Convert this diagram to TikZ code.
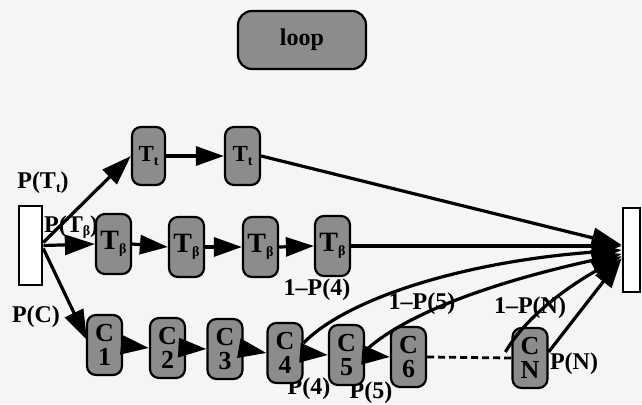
\documentclass[tikz,border=0pt]{standalone}
\usepackage{fontspec}
\setmainfont{Liberation Serif}
\usetikzlibrary{arrows.meta,calc}
\tikzset{
  st/.style={draw=black, line width=2.2pt, fill=black!45, rounded corners=9pt,
    minimum width=35pt, minimum height=58pt, inner sep=0pt, align=center,
    font=\bfseries\fontsize{26}{24}\selectfont},
  bar/.style={draw=black, line width=2.6pt, fill=white, inner sep=0pt},
  lab/.style={font=\bfseries\fontsize{24}{24}\selectfont, inner sep=0pt},
  arr/.style={line width=3.2pt, -{Triangle[length=30pt,width=20pt]}},
  chain/.style={line width=3.2pt, -{Triangle[length=28pt,width=19pt]}},
}
\newcommand{\sbt}[1]{\raisebox{-0.15em}{\fontsize{14}{14}\selectfont #1}}
\begin{document}
\begin{tikzpicture}[x=1pt,y=-1pt]
\fill[black!4] (0,0) rectangle (642,404);
\useasboundingbox (0,0) rectangle (642,404);

% labels
\node[lab] (lTt) at (43,183) {P(T\sbt{t})};
\node[lab, anchor=west] (lTb) at (44,227) {P(T\sbt{β})};
\node[lab] (lC) at (36,317) {P(C)};
\node[lab] (l4) at (317,290) {1–P(4)};
\node[lab] (l5) at (422,304) {1–P(5)};
\node[lab] (lN) at (530,308) {1–P(N)};
\node[lab] (pN) at (574,364) {P(N)};
\node[lab] (p4) at (309,389) {P(4)};
\node[lab] (p5) at (371,393) {P(5)};

% loop
\node[st, minimum width=128pt, minimum height=58pt, rounded corners=14pt,
  font=\bfseries\fontsize{24}{24}\selectfont] (loop) at (302,40) {loop};

% bars
\node[bar, minimum width=23pt, minimum height=79pt] (L) at (30.5,245.5) {};
\node[bar, minimum width=17pt, minimum height=84pt] (R) at (631.5,250) {};

% T_t nodes
\node[st, minimum width=33pt, font=\bfseries\fontsize{23}{23}\selectfont] (Tt1) at (148.5,156) {T\sbt{t}};
\node[st, minimum width=35pt, font=\bfseries\fontsize{23}{23}\selectfont] (Tt2) at (242.5,156) {T\sbt{t}};

% T_beta nodes
\node[st, minimum height=60pt, font=\bfseries\fontsize{28}{28}\selectfont] (Tb1) at (113.5,244) {T\sbt{β}};
\node[st, minimum height=60pt, font=\bfseries\fontsize{28}{28}\selectfont] (Tb2) at (186.5,247) {T\sbt{β}};
\node[st, minimum height=60pt, font=\bfseries\fontsize{28}{28}\selectfont] (Tb3) at (260.5,247) {T\sbt{β}};
\node[st, minimum height=60pt, font=\bfseries\fontsize{28}{28}\selectfont] (Tb4) at (332.5,246) {T\sbt{β}};

% C nodes
\node[st, minimum height=60pt] (C1) at (104.5,345) {C\\1};
\node[st, minimum height=60pt] (C2) at (167.5,348) {C\\2};
\node[st, minimum height=60pt] (C3) at (225,349) {C\\3};
\node[st, minimum height=60pt] (C4) at (285,353) {C\\4};
\node[st, minimum height=60pt] (C5) at (346.5,355) {C\\5};
\node[st, minimum height=60pt] (C6) at (408.5,357) {C\\6};
\node[st, minimum height=60pt] (CN) at (530,358) {C\\N};

% target points on right bar
\coordinate (r1) at ($(R.west)+(0,-5)$);
\coordinate (r2) at ($(R.west)+(0,-4)$);
\coordinate (r3) at ($(R.west)+(0,0)$);
\coordinate (r4) at ($(R.west)+(0,4)$);
\coordinate (r5) at ($(R.west)+(0,6)$);
\coordinate (r6) at ($(R.west)+(0,8)$);

% from left bar
\draw[arr] ($(L.east)+(0,-3)$) -- (Tt1.west);
\draw[arr] (L.east) -- (Tb1.west);
\draw[arr] ($(L.east)+(0,3)$) -- ($(C1.west)+(1,-5)$);

% chains
\draw[chain] (Tt1.east) -- (Tt2.west);
\draw[chain] (Tb1.east) -- (Tb2.west);
\draw[chain] (Tb2.east) -- (Tb3.west);
\draw[chain] (Tb3.east) -- (Tb4.west);
\draw[chain] (C1.east) -- (C2.west);
\draw[chain] (C2.east) -- (C3.west);
\draw[chain] (C3.east) -- (C4.west);
\draw[chain] (C4.east) -- (C5.west);
\draw[chain] (C5.east) -- (C6.west);
\draw[line width=2.8pt, dash pattern=on 7pt off 4pt] (C6.east) -- (CN.west);

% to right bar
\draw[arr] (Tt2.east) -- (r1);
\draw[arr] (Tb4.east) -- (r2);
\draw[arr] ($(C4.east)+(0,-10)$) .. controls (345,300) and (460,262) .. (r3);
\draw[arr] ($(C5.east)+(0,-4)$) .. controls (400,318) and (480,285) .. (r4);
\draw[arr] ($(CN.west)+(-6,-6)$) .. controls (530,310) and (580,280) .. (r5);
\draw[arr] ($(CN.east)+(0,-6)$) -- (r6);
\end{tikzpicture}
\end{document}
